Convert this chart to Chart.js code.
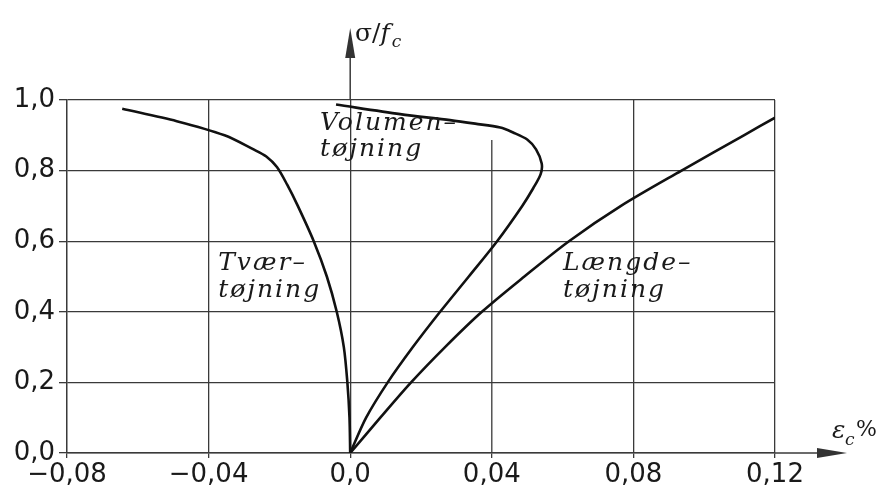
<!DOCTYPE html>
<html>
<head>
<meta charset="utf-8">
<script src="https://cdn.jsdelivr.net/npm/chart.js@4.4.1/dist/chart.umd.min.js"></script>
<style>
  body { margin: 0; background: #fff; }
  canvas { display: block; }
</style>
</head>
<body>
<canvas id="stressStrain" width="877" height="488"></canvas>
<script>
// tick values and their printed labels
const xTickValues = [-0.08, -0.04, 0, 0.04, 0.08, 0.12];
const xTickLabels = ['−0,08', '−0,04', '0,0', '0,04', '0,08', '0,12'];
const yTickValues = [0, 0.2, 0.4, 0.6, 0.8, 1.0];
const yTickLabels = ['0,0', '0,2', '0,4', '0,6', '0,8', '1,0'];

// Tværtøjning (transverse strain)
const transverseStrain = [0, -0.0002, -0.0008, -0.0018, -0.0038, -0.0066, -0.0103, -0.0148, -0.0178, -0.0207, -0.0237, -0.0273, -0.0355, -0.0490, -0.0644];
const transverseStress = [0, 0.10, 0.20, 0.30, 0.40, 0.50, 0.60, 0.70, 0.76, 0.81, 0.84, 0.86, 0.90, 0.94, 0.975];

// Volumentøjning (volumetric strain)
const volumeStrain = [0, 0.0045, 0.0106, 0.0177, 0.0254, 0.0335, 0.0415, 0.0486, 0.0517, 0.0538, 0.0541, 0.0525, 0.0500, 0.0460, 0.0424, 0.0353, 0.0282, 0.0141, -0.0040];
const volumeStress = [0, 0.10, 0.20, 0.30, 0.40, 0.50, 0.60, 0.70, 0.75, 0.79, 0.82, 0.86, 0.888, 0.908, 0.922, 0.933, 0.943, 0.960, 0.987];

// Længdetøjning (longitudinal strain)
const longStrain = [0, 0.0085, 0.0172, 0.0268, 0.0372, 0.0492, 0.0618, 0.0765, 0.0936, 0.1112, 0.120];
const longStress = [0, 0.10, 0.20, 0.30, 0.40, 0.50, 0.60, 0.70, 0.80, 0.90, 0.95];

// curve captions, anchored in data units (left edge, baseline)
const curveLabels = [
  { text: 'Volumen–', x: -0.0085, y: 0.916 },
  { text: 'tøjning', x: -0.0085, y: 0.840 },
  { text: 'Tvær–', x: -0.0373, y: 0.519 },
  { text: 'tøjning', x: -0.0373, y: 0.443 },
  { text: 'Længde–', x: 0.0601, y: 0.519 },
  { text: 'tøjning', x: 0.0601, y: 0.443 }
];

const gridColor = '#3a3a3a';
const curveColor = '#111';
const gapGridX = 0.04;     // this grid line stops under the caption
const gapGridTop = 0.887;

const toPoints = (xs, ys) => xs.map((x, i) => ({ x: x, y: ys[i] }));

const curveDataset = (label, xs, ys) => ({
  label: label,
  data: toPoints(xs, ys),
  showLine: true,
  borderColor: curveColor,
  borderWidth: 2.6,
  pointRadius: 0,
  tension: 0.3,
  fill: false
});

const arrowHead = (ctx, tipX, tipY, dirX, dirY) => {
  const len = 30, half = 5;
  const bx = tipX - dirX * len, by = tipY - dirY * len;
  ctx.beginPath();
  ctx.moveTo(tipX, tipY);
  ctx.lineTo(bx - dirY * half, by + dirX * half);
  ctx.lineTo(bx + dirY * half, by - dirX * half);
  ctx.closePath();
  ctx.fill();
};

const decorations = {
  id: 'decorations',
  beforeDatasetsDraw(chart) {
    const { ctx, scales: { x, y } } = chart;
    ctx.save();
    ctx.strokeStyle = gridColor;
    ctx.lineWidth = 1.3;
    ctx.beginPath();
    ctx.moveTo(x.getPixelForValue(gapGridX), y.getPixelForValue(0));
    ctx.lineTo(x.getPixelForValue(gapGridX), y.getPixelForValue(gapGridTop));
    ctx.stroke();
    ctx.restore();
  },
  afterDatasetsDraw(chart) {
    const { ctx, scales: { x, y } } = chart;
    ctx.save();
    ctx.fillStyle = '#1a1a1a';
    ctx.font = 'italic 25px "DejaVu Serif"';
    ctx.letterSpacing = '2px';
    ctx.textBaseline = 'alphabetic';
    curveLabels.forEach(l => {
      ctx.fillText(l.text, x.getPixelForValue(l.x), y.getPixelForValue(l.y));
    });
    ctx.restore();
  },
  afterDraw(chart) {
    const { ctx, chartArea, scales: { x, y } } = chart;
    const x0 = x.getPixelForValue(0);
    const y0 = y.getPixelForValue(0);
    ctx.save();
    ctx.strokeStyle = gridColor;
    ctx.fillStyle = '#333';
    ctx.lineWidth = 1.5;
    // vertical axis up to the arrow
    ctx.beginPath();
    ctx.moveTo(x0, chartArea.top);
    ctx.lineTo(x0, 50);
    ctx.stroke();
    arrowHead(ctx, x0, 28, 0, -1);
    // horizontal axis out to the arrow
    ctx.beginPath();
    ctx.moveTo(chartArea.right, y0);
    ctx.lineTo(825, y0);
    ctx.stroke();
    arrowHead(ctx, 847, y0, 1, 0);

    // axis titles
    ctx.fillStyle = '#1a1a1a';
    ctx.textBaseline = 'alphabetic';
    ctx.font = '25px "DejaVu Serif"';
    ctx.fillText('σ/', 355, 41);
    let w = ctx.measureText('σ/').width;
    ctx.font = 'italic 25px "DejaVu Serif"';
    ctx.fillText('f', 355 + w, 41);
    w += ctx.measureText('f').width;
    ctx.font = 'italic 17px "DejaVu Serif"';
    ctx.fillText('c', 357 + w, 47);

    ctx.font = 'italic 25px "DejaVu Serif"';
    ctx.fillText('ε', 832, 438);
    ctx.font = 'italic 17px "DejaVu Serif"';
    ctx.fillText('c', 845, 445);
    ctx.font = '22px "DejaVu Serif"';
    ctx.fillText('%', 856, 436);
    ctx.restore();
  }
};

new Chart(document.getElementById('stressStrain'), {
  type: 'scatter',
  data: {
    datasets: [
      curveDataset('Tværtøjning', transverseStrain, transverseStress),
      curveDataset('Volumentøjning', volumeStrain, volumeStress),
      curveDataset('Længdetøjning', longStrain, longStress)
    ]
  },
  options: {
    responsive: false,
    animation: false,
    layout: { padding: { top: 100, right: 102, left: 0, bottom: 0 } },
    plugins: {
      legend: { display: false },
      tooltip: { enabled: false }
    },
    scales: {
      x: {
        type: 'linear',
        min: -0.08,
        max: 0.12,
        afterBuildTicks: scale => { scale.ticks = xTickValues.map(v => ({ value: v })); },
        afterFit: scale => { scale.height = 35; },
        grid: {
          color: c => (c.tick && c.tick.value === gapGridX) ? 'rgba(0,0,0,0)' : gridColor,
          tickColor: gridColor,
          lineWidth: 1.3,
          tickLength: 5
        },
        border: { color: gridColor, width: 1.5 },
        ticks: {
          color: '#1a1a1a',
          font: { family: '"DejaVu Sans"', size: 26 },
          padding: 2,
          maxRotation: 0,
          callback: (v, i) => xTickLabels[i]
        }
      },
      y: {
        type: 'linear',
        min: 0,
        max: 1,
        afterBuildTicks: scale => { scale.ticks = yTickValues.map(v => ({ value: v })); },
        afterFit: scale => { scale.width = 67; },
        grid: {
          color: gridColor,
          lineWidth: 1.3,
          tickLength: 8
        },
        border: { color: gridColor, width: 1.3 },
        ticks: {
          color: '#1a1a1a',
          font: { family: '"DejaVu Sans"', size: 26 },
          padding: 4,
          callback: (v, i) => yTickLabels[i]
        }
      }
    }
  },
  plugins: [decorations]
});
</script>
</body>
</html>
